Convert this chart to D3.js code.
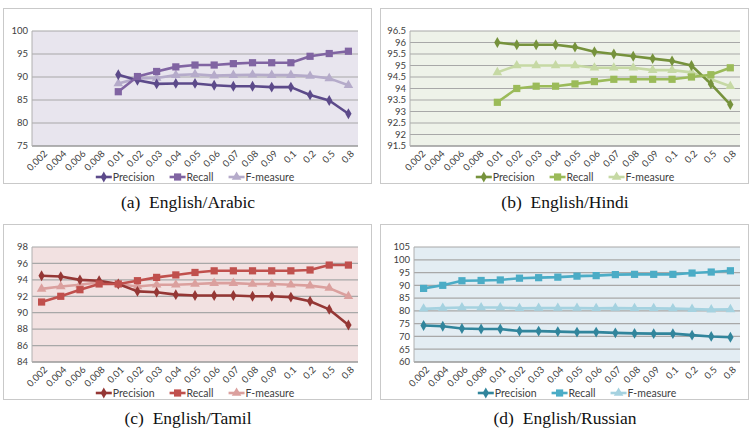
<!DOCTYPE html>
<html>
<head>
<meta charset="utf-8">
<script src="https://cdn.jsdelivr.net/npm/d3@7"></script>
<style>
  body { margin: 0; background: #fff; }
  svg { display: block; }
</style>
</head>
<body>
<svg id="chart" width="754" height="432"></svg>
<script>
// x categories (threshold values), shared by all four panels
const thresholds = ["0.002", "0.004", "0.006", "0.008", "0.01", "0.02", "0.03", "0.04", "0.05",
  "0.06", "0.07", "0.08", "0.09", "0.1", "0.2", "0.5", "0.8"];
const seriesNames = ["Precision", "Recall", "F-measure"];

// (a) English/Arabic - starts at 0.01
const arabicPrecision = [90.5, 89.3, 88.5, 88.6, 88.6, 88.2, 88.0, 88.0, 87.8, 87.8, 86.1, 84.9, 82.0];
const arabicRecall    = [86.8, 90.1, 91.2, 92.2, 92.6, 92.6, 92.9, 93.1, 93.1, 93.1, 94.5, 95.1, 95.6];
const arabicFmeasure  = [88.6, 89.7, 89.8, 90.4, 90.6, 90.3, 90.4, 90.5, 90.4, 90.4, 90.2, 89.7, 88.2];
const arabicTicks = [75, 80, 85, 90, 95, 100];

// (b) English/Hindi - starts at 0.01
const hindiPrecision = [96.0, 95.9, 95.9, 95.9, 95.8, 95.6, 95.5, 95.4, 95.3, 95.2, 95.0, 94.2, 93.3];
const hindiRecall    = [93.4, 94.0, 94.1, 94.1, 94.2, 94.3, 94.4, 94.4, 94.4, 94.4, 94.5, 94.6, 94.9];
const hindiFmeasure  = [94.7, 95.0, 95.0, 95.0, 95.0, 94.9, 94.9, 94.9, 94.8, 94.8, 94.7, 94.4, 94.1];
const hindiTicks = [91.5, 92, 92.5, 93, 93.5, 94, 94.5, 95, 95.5, 96, 96.5];

// (c) English/Tamil
const tamilPrecision = [94.5, 94.4, 94.0, 93.9, 93.5, 92.6, 92.5, 92.2, 92.1, 92.1, 92.1, 92.0, 92.0, 91.9, 91.4, 90.4, 88.5];
const tamilRecall    = [91.3, 92.0, 92.8, 93.5, 93.5, 93.9, 94.3, 94.6, 94.9, 95.1, 95.1, 95.1, 95.1, 95.1, 95.2, 95.8, 95.8];
const tamilFmeasure  = [92.9, 93.2, 93.4, 93.7, 93.5, 93.2, 93.4, 93.4, 93.5, 93.6, 93.6, 93.5, 93.5, 93.4, 93.3, 93.0, 92.0];
const tamilTicks = [84, 86, 88, 90, 92, 94, 96, 98];

// (d) English/Russian
const russianPrecision = [74.3, 74.0, 73.1, 72.9, 72.9, 72.1, 72.1, 71.9, 71.7, 71.7, 71.4, 71.2, 71.1, 71.1, 70.5, 70.0, 69.7];
const russianRecall    = [88.8, 90.0, 91.8, 91.9, 92.1, 92.8, 93.0, 93.2, 93.6, 93.8, 94.2, 94.3, 94.3, 94.3, 94.8, 95.2, 95.7];
const russianFmeasure  = [80.8, 81.1, 81.3, 81.3, 81.3, 81.0, 81.1, 81.1, 81.1, 81.0, 81.1, 81.0, 81.0, 80.9, 80.7, 80.5, 80.6];
const russianTicks = [60, 65, 70, 75, 80, 85, 90, 95, 100, 105];

const panels = [
  {caption: "(a)  English/Arabic", x: 3, y: 8, left: 29, right: 355,
   bg: "#e8e5ee", colors: ["#5c4a8a", "#8064a2", "#b5abca"], start: 4,
   series: [arabicPrecision, arabicRecall, arabicFmeasure], ticks: arabicTicks},
  {caption: "(b)  English/Hindi", x: 380, y: 8, left: 30, right: 360,
   bg: "#eef2e9", colors: ["#76923c", "#9bbb59", "#c6d9a4"], start: 4,
   series: [hindiPrecision, hindiRecall, hindiFmeasure], ticks: hindiTicks},
  {caption: "(c)  English/Tamil", x: 3, y: 224, left: 29, right: 355,
   bg: "#f2e1e1", colors: ["#953735", "#c0504d", "#dba09e"], start: 0,
   series: [tamilPrecision, tamilRecall, tamilFmeasure], ticks: tamilTicks},
  {caption: "(d)  English/Russian", x: 380, y: 224, left: 34, right: 360,
   bg: "#e3edf3", colors: ["#31859c", "#4bacc6", "#a5d2e0"], start: 0,
   series: [russianPrecision, russianRecall, russianFmeasure], ticks: russianTicks}
];

const frameW = 368, frameH = 175, plotTop = 23, plotBottom = 138;
const svg = d3.select("#chart");
const markers = [d3.symbolDiamond, d3.symbolSquare, d3.symbolTriangle];
const markerSize = [34, 52, 40];

panels.forEach(p => {
  const g = svg.append("g").attr("transform", `translate(${p.x},${p.y})`);

  g.append("rect")
    .attr("x", 0.5).attr("y", 0.5)
    .attr("width", frameW).attr("height", frameH)
    .attr("fill", "#fff").attr("stroke", "#c9c9c9");

  const x = d3.scaleBand().domain(thresholds).range([p.left, p.right]);
  const y = d3.scaleLinear()
    .domain([p.ticks[0], p.ticks[p.ticks.length - 1]])
    .range([plotBottom, plotTop]);

  g.append("rect")
    .attr("x", p.left).attr("y", plotTop)
    .attr("width", p.right - p.left).attr("height", plotBottom - plotTop)
    .attr("fill", p.bg);

  // gridlines + y labels
  g.selectAll(".grid").data(p.ticks).enter()
    .append("line")
    .attr("x1", p.left).attr("x2", p.right)
    .attr("y1", d => y(d)).attr("y2", d => y(d))
    .attr("stroke", d => d == p.ticks[0] ? "#999" : "#a8a8a8")
    .attr("stroke-width", d => d == p.ticks[0] ? 1.5 : 1.2);

  g.selectAll(".ylab").data(p.ticks).enter()
    .append("text")
    .attr("x", p.left - 4).attr("y", d => y(d))
    .attr("dy", "0.35em")
    .attr("text-anchor", "end")
    .attr("font-family", "Lato, sans-serif").attr("font-size", 9.5)
    .attr("fill", "#404040")
    .text(d => d);

  g.append("line")
    .attr("x1", p.left).attr("x2", p.left)
    .attr("y1", plotTop).attr("y2", plotBottom)
    .attr("stroke", "#b0b0b0");

  // x labels, rotated
  g.selectAll(".xlab").data(thresholds).enter()
    .append("text")
    .attr("transform", d => `translate(${x(d) + x.bandwidth() / 2 + 4},${plotBottom + 6}) rotate(-45)`)
    .attr("text-anchor", "end")
    .attr("dy", "0.35em")
    .attr("font-family", "Lato, sans-serif").attr("font-size", 9.5)
    .attr("fill", "#404040")
    .text(d => d);

  const line = d3.line()
    .x(d => x(d.k) + x.bandwidth() / 2)
    .y(d => y(d.v));

  // draw F-measure first so precision/recall sit on top
  [2, 0, 1].forEach(si => {
    const pts = p.series[si].map((v, i) => ({k: thresholds[i + p.start], v: v}));
    g.append("path")
      .datum(pts)
      .attr("d", line)
      .attr("fill", "none")
      .attr("stroke", p.colors[si])
      .attr("stroke-width", 2.6)
      .attr("stroke-linejoin", "round");
    g.selectAll(".m" + si).data(pts).enter()
      .append("path")
      .attr("d", d3.symbol().type(markers[si]).size(markerSize[si]))
      .attr("transform", d => `translate(${x(d.k) + x.bandwidth() / 2},${y(d.v)})`)
      .attr("fill", p.colors[si]);
  });

  // legend
  const legY = 169;
  const leg = g.append("g");
  let cx = 0;
  seriesNames.forEach((name, si) => {
    const item = leg.append("g").attr("transform", `translate(${cx},0)`);
    item.append("line")
      .attr("x1", 0).attr("x2", 16).attr("y1", 0).attr("y2", 0)
      .attr("stroke", p.colors[si]).attr("stroke-width", 2.6);
    item.append("path")
      .attr("d", d3.symbol().type(markers[si]).size(markerSize[si]))
      .attr("transform", "translate(8,0)")
      .attr("fill", p.colors[si]);
    const t = item.append("text")
      .attr("x", 17).attr("dy", "0.35em")
      .attr("font-family", "Lato, sans-serif").attr("font-size", 10.5)
      .attr("fill", "#404040")
      .text(name);
    cx += 17 + t.node().getComputedTextLength() + 15;
  });
  const legW = cx - 15;
  leg.attr("transform", `translate(${(p.left + p.right) / 2 - legW / 2},${legY})`);

  // caption below the frame
  g.append("text")
    .attr("x", frameW / 2 + 1).attr("y", 200)
    .attr("text-anchor", "middle")
    .attr("font-family", "'Liberation Serif', serif").attr("font-size", 17.5)
    .attr("fill", "#111")
    .attr("xml:space", "preserve")
    .style("white-space", "pre")
    .text(p.caption);
});
</script>
</body>
</html>
